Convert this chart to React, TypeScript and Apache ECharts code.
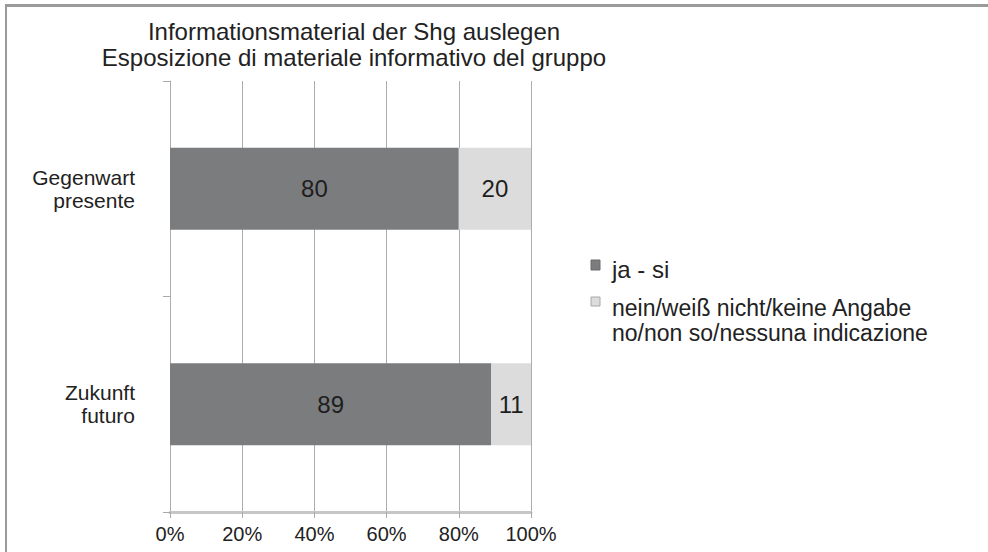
import React, { useEffect, useRef } from "react";
import * as echarts from "echarts";

const titleLines = ["Informationsmaterial der Shg auslegen", "Esposizione di materiale informativo del gruppo"];
const categories = ["Gegenwart\npresente", "Zukunft\nfuturo"];
const seriesNames = ["ja - si", "nein/weiß nicht/keine Angabe\nno/non so/nessuna indicazione"];
const jaSi = [80, 89];
const neinKeine = [20, 11];
const tickValues = [0, 20, 40, 60, 80, 100];
const colors = ["#7a7c7e", "#dcdcdc"];

const FONT = "'Liberation Sans', Arial, sans-serif";

export default function App() {
  const ref = useRef<HTMLDivElement>(null);
  useEffect(() => {
    if (!ref.current) return;
    const chart = echarts.init(ref.current, undefined, { renderer: "svg" });
    chart.setOption({
      animation: false,
      backgroundColor: "#ffffff",
      textStyle: { fontFamily: FONT },
      title: {
        text: titleLines.join("\n"),
        left: 349,
        top: 13,
        textAlign: "center",
        textStyle: { fontFamily: FONT, fontSize: 24, fontWeight: "normal", color: "#222", lineHeight: 26 },
      },
      grid: { left: 170, right: 457, top: 81, bottom: 40, containLabel: false },
      xAxis: {
        type: "value",
        min: tickValues[0],
        max: tickValues[tickValues.length - 1],
        interval: 20,
        axisLabel: { formatter: "{value}%", fontSize: 20, color: "#222", margin: 12, fontFamily: FONT },
        axisLine: { show: true, lineStyle: { color: "#c6c6c6", width: 3 } },
        axisTick: { show: true, length: 6, lineStyle: { color: "#aaaaaa" } },
        splitLine: { show: true, lineStyle: { color: "#adadad", width: 1 } },
      },
      yAxis: {
        type: "category",
        data: categories,
        inverse: true,
        axisLine: { show: true, lineStyle: { color: "#adadad" } },
        axisTick: { show: true, length: 7, lineStyle: { color: "#aaaaaa" } },
        axisLabel: { fontSize: 21, lineHeight: 23, color: "#222", margin: 35, fontFamily: FONT, align: "right" },
      },
      series: [
        {
          name: seriesNames[0],
          type: "bar",
          stack: "total",
          data: jaSi,
          barWidth: "38%",
          itemStyle: { color: colors[0] },
          label: { show: true, position: "inside", fontSize: 24, color: "#1e1e1e", fontFamily: FONT },
        },
        {
          name: seriesNames[1],
          type: "bar",
          stack: "total",
          data: neinKeine,
          barWidth: "38%",
          itemStyle: { color: colors[1] },
          label: { show: true, position: "inside", fontSize: 24, color: "#1e1e1e", fontFamily: FONT },
        },
      ],
      graphic: [
        { type: "line", shape: { x1: 5, y1: 5.5, x2: 988, y2: 5.5 }, style: { stroke: "#9a9a9a", lineWidth: 3 } },
        { type: "line", shape: { x1: 6, y1: 5, x2: 6, y2: 552 }, style: { stroke: "#9a9a9a", lineWidth: 2 } },
        { type: "rect", shape: { x: 591, y: 260, width: 9, height: 10 }, style: { fill: colors[0], stroke: "#6a6a6a", lineWidth: 1 } },
        { type: "text", x: 612, y: 269, style: { text: seriesNames[0], font: `24px ${FONT}`, fill: "#222", textVerticalAlign: "middle" } },
        { type: "rect", shape: { x: 591, y: 297, width: 9, height: 9 }, style: { fill: colors[1], stroke: "#a8a8a8", lineWidth: 1 } },
        { type: "text", x: 612, y: 320, style: { text: seriesNames[1], font: `23px ${FONT}`, fill: "#222", lineHeight: 25, textVerticalAlign: "middle" } },
      ],
    });
    return () => chart.dispose();
  }, []);
  return <div ref={ref} style={{ position: "absolute", left: 0, top: 0, width: 988, height: 552 }} />;
}
